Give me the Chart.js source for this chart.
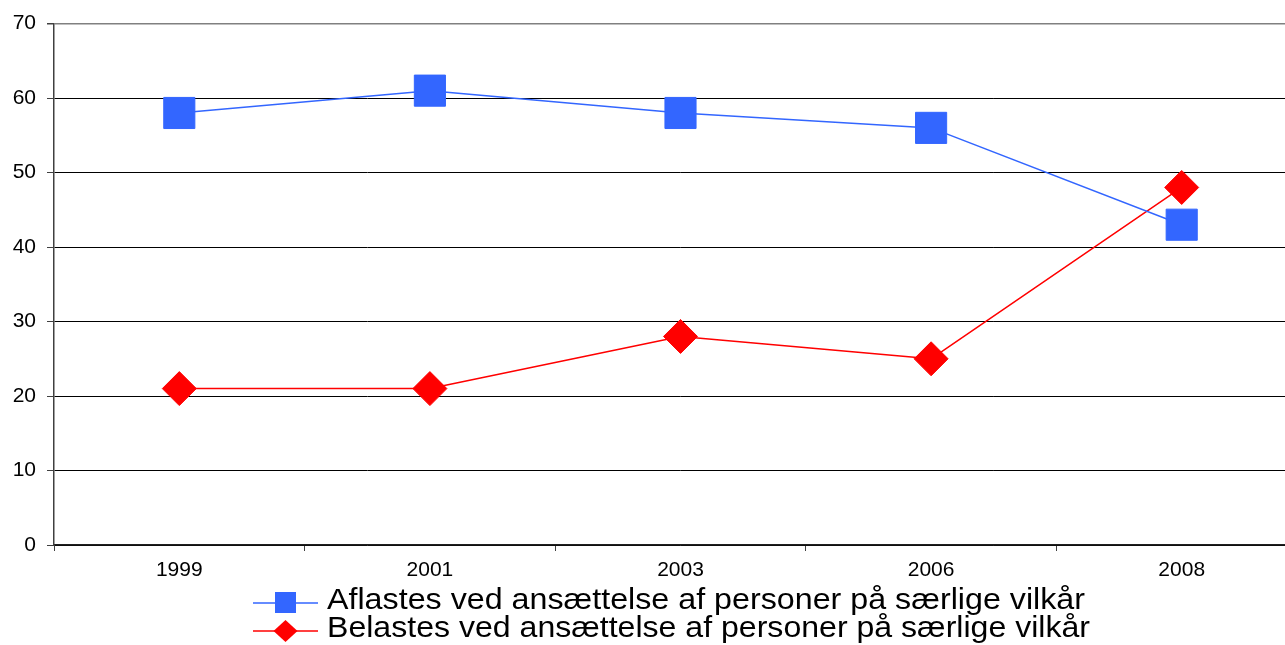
<!DOCTYPE html>
<html><head><meta charset="utf-8">
<script src="https://cdn.jsdelivr.net/npm/chart.js@4.4.0/dist/chart.umd.min.js"></script>
<style>
html,body{margin:0;padding:0;background:#fff;overflow:hidden;}
#wrap{position:relative;width:1330px;height:645px;}
</style></head>
<body>
<div id="wrap"><canvas id="c" width="1330" height="645" style="width:1330px;height:645px"></canvas></div>
<script>
const categories = ['1999','2001','2003','2006','2008'];
const aflastes = [58, 61, 58, 56, 43];
const belastes = [21, 21, 28, 25, 48];
const seriesNames = ['Aflastes ved ansættelse af personer på særlige vilkår',
                     'Belastes ved ansættelse af personer på særlige vilkår'];
const yTicks = [0,10,20,30,40,50,60,70];

const legendPlugin = {
  id: 'customLegend',
  afterDraw(chart) {
    const ctx = chart.ctx;
    const rows = [603, 631];
    chart.data.datasets.forEach((ds, i) => {
      const y = rows[i];
      ctx.save();
      ctx.strokeStyle = ds.borderColor;
      ctx.lineWidth = 1.5;
      ctx.beginPath(); ctx.moveTo(253, y); ctx.lineTo(318, y); ctx.stroke();
      ctx.fillStyle = ds.backgroundColor;
      if (ds.pointStyle === 'rect') {
        ctx.fillRect(275, y - 11, 21, 21);
      } else {
        ctx.beginPath();
        ctx.moveTo(285.5 - 12, y); ctx.lineTo(285.5, y - 11);
        ctx.lineTo(285.5 + 12, y); ctx.lineTo(285.5, y + 11); ctx.closePath(); ctx.fill();
      }
      ctx.fillStyle = '#000';
      ctx.font = '30px "Liberation Sans", Arial, sans-serif';
      ctx.textBaseline = 'middle';
      ctx.textAlign = 'left';
      const text = ds.label;
      const w = ctx.measureText(text).width;
      const target = i === 0 ? 758 : 763;
      ctx.translate(327, y - 2);
      ctx.scale(target / w, 1);
      ctx.fillText(text, 0, 0);
      ctx.restore();
    });
  }
};

const chart = new Chart(document.getElementById('c'), {
  type: 'line',
  data: {
    labels: categories,
    datasets: [
      { label: seriesNames[0], data: aflastes, borderColor: '#3366FF', backgroundColor: '#3366FF',
        borderWidth: 1.5, borderJoinStyle: 'round', pointStyle: 'rect', pointRadius: 22, pointHoverRadius: 22,
        pointBorderWidth: 1, pointBorderColor: '#3366FF', tension: 0 },
      { label: seriesNames[1], data: belastes, borderColor: '#FF0000', backgroundColor: '#FF0000',
        borderWidth: 1.5, borderJoinStyle: 'round', pointStyle: 'rectRot', pointRadius: 17, pointHoverRadius: 17,
        pointBorderWidth: 1, pointBorderColor: '#FF0000', tension: 0 }
    ]
  },
  options: {
    responsive: false,
    animation: false,
    events: [],
    layout: { padding: { top: 21, right: 0, left: 0, bottom: 0 } },
    plugins: { legend: { display: false }, tooltip: { enabled: false } },
    scales: {
      x: {
        type: 'category',
        offset: true,
        grid: { offset: true, drawOnChartArea: false, drawTicks: true, tickLength: 6, color: '#404040' },
        border: { color: '#202020', width: 1.5 },
        ticks: { color: '#000', font: { family: '"Liberation Sans", Arial, sans-serif', size: 21 }, padding: 7, maxRotation: 0 },
        afterFit(scale) { scale.height = 100; }
      },
      y: {
        min: 0, max: 70,
        afterBuildTicks(scale) { scale.ticks = yTicks.map(v => ({ value: v })); },
        grid: {
          color: (c) => (c.tick && c.tick.value === 70) ? '#808080' : '#000000',
          lineWidth: (c) => (c.tick && c.tick.value === 70) ? 1.5 : 1,
          tickLength: 7, tickColor: '#404040', drawTicks: true
        },
        border: { color: '#404040', width: 1.5 },
        ticks: { color: '#000', font: { family: '"Liberation Sans", Arial, sans-serif', size: 21 }, padding: 11 },
        afterFit(scale) { scale.width = 54; }
      }
    }
  },
  plugins: [legendPlugin]
});
</script>
</body></html>
